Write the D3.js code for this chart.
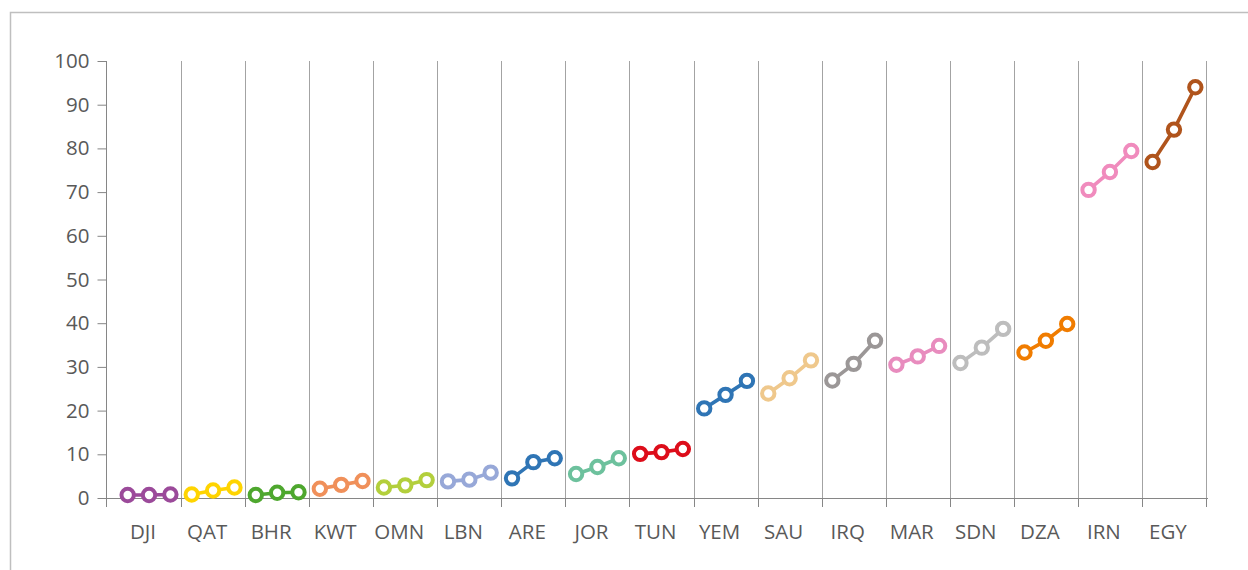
<!DOCTYPE html>
<html>
<head>
<meta charset="utf-8">
<script src="https://cdn.jsdelivr.net/npm/d3@7"></script>
<style>
  html, body { margin: 0; padding: 0; background: #fff; }
  svg { display: block; }
  text { font-family: "Open Sans", sans-serif; fill: #595959; }
</style>
</head>
<body>
<svg id="chart" width="1248" height="570"></svg>
<script>
// ---- data ----
const countries = ["DJI","QAT","BHR","KWT","OMN","LBN","ARE","JOR","TUN","YEM","SAU","IRQ","MAR","SDN","DZA","IRN","EGY"];
const point1 = [0.7, 0.8, 0.7, 2.1, 2.4, 3.8, 4.5, 5.5, 10.1, 20.5, 23.9, 26.9, 30.5, 30.9, 33.3, 70.5, 76.9];
const point2 = [0.7, 1.7, 1.2, 3.0, 2.9, 4.2, 8.2, 7.1, 10.5, 23.6, 27.4, 30.7, 32.4, 34.4, 36.0, 74.6, 84.3];
const point3 = [0.8, 2.4, 1.3, 3.9, 4.1, 5.8, 9.1, 9.1, 11.2, 26.8, 31.5, 36.0, 34.8, 38.7, 39.8, 79.4, 94.0];
const colors = ["#9b4a9a","#ffd400","#4ea72e","#f0905a","#b3cf3c","#97a8d8","#2f75b5","#6dc19d","#dd0d1a","#2f75b5","#efc88c","#9b9797","#e88cbe","#bdbdbd","#f07c00","#f08bbd","#b0541c"];
const yTicks = [0,10,20,30,40,50,60,70,80,90,100];
const subKeys = ["a","b","c"];

// ---- layout ----
const svg = d3.select("#chart");
const axisX = 106, plotLeft = 117, plotRight = 1206, yTop = 61, yBottom = 498;

// outer border
svg.append("rect")
  .attr("x", 10.5).attr("y", 12.5).attr("width", 1300).attr("height", 700)
  .attr("fill", "none").attr("stroke", "#bfbfbf").attr("stroke-width", 1.5);

const x = d3.scaleBand().domain(countries).range([plotLeft, plotRight]).padding(0);
const xs = d3.scalePoint().domain(subKeys).range([0, x.bandwidth()]).padding(0.5);
const y = d3.scaleLinear().domain([0, 100]).range([yBottom, yTop]);

// vertical separators
const seps = countries.slice(1).map(c => x(c)).concat([plotRight]);
svg.append("g").selectAll("line").data(seps).join("line")
  .attr("x1", d => Math.round(d) + 0.5).attr("x2", d => Math.round(d) + 0.5)
  .attr("y1", yTop).attr("y2", yBottom)
  .attr("stroke", "#a3a3a3").attr("stroke-width", 1);

// y axis
const yAxis = d3.axisLeft(y).tickValues(yTicks).tickSize(9).tickPadding(8);
const gy = svg.append("g").attr("transform", `translate(${axisX + 0.5},0)`).call(yAxis);
gy.select(".domain").attr("stroke", "#868686").attr("d", `M0,${yTop}V${yBottom}`);
gy.selectAll(".tick line").attr("stroke", "#868686");
gy.selectAll(".tick text").attr("font-size", 20.5).attr("fill", "#595959")
  .attr("font-family", "Open Sans, sans-serif");

// x axis line + ticks
svg.append("line")
  .attr("x1", axisX).attr("x2", plotRight + 2)
  .attr("y1", yBottom + 0.5).attr("y2", yBottom + 0.5)
  .attr("stroke", "#868686").attr("stroke-width", 1);
const xTickPos = [axisX].concat(seps);
svg.append("g").selectAll("line").data(xTickPos).join("line")
  .attr("x1", d => Math.round(d) + 0.5).attr("x2", d => Math.round(d) + 0.5)
  .attr("y1", yBottom).attr("y2", yBottom + 9)
  .attr("stroke", "#868686").attr("stroke-width", 1);

// x labels
svg.append("g").selectAll("text").data(countries).join("text")
  .attr("x", d => x(d) + x.bandwidth() / 2 - 6)
  .attr("y", 538.5)
  .attr("text-anchor", "middle")
  .attr("font-size", 20.5)
  .text(d => d);

// series
const line = d3.line().x(d => d.x).y(d => d.y);
countries.forEach((c, i) => {
  const vals = [point1[i], point2[i], point3[i]];
  const pts = vals.map((v, j) => ({ x: x(c) + xs(subKeys[j]), y: y(v) }));
  const g = svg.append("g");
  g.append("path").datum(pts).attr("d", line)
    .attr("fill", "none").attr("stroke", colors[i]).attr("stroke-width", 3.6);
  g.selectAll("circle").data(pts).join("circle")
    .attr("cx", d => d.x).attr("cy", d => d.y).attr("r", 6.2)
    .attr("fill", "#fff").attr("stroke", colors[i]).attr("stroke-width", 4);
});
</script>
</body>
</html>
